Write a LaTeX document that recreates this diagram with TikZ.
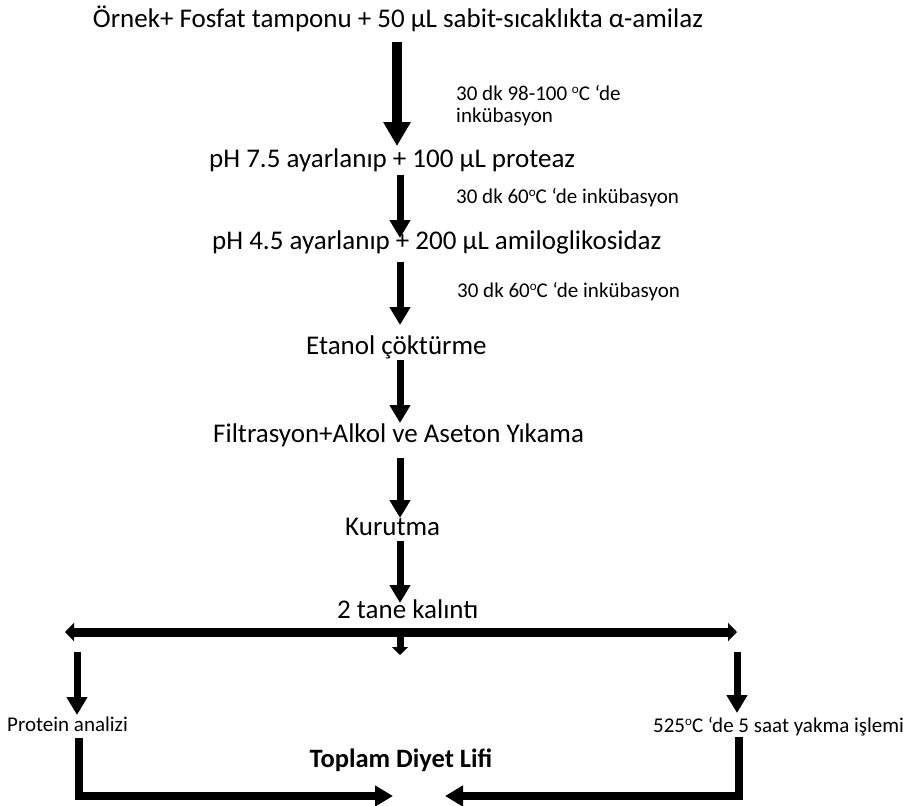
\documentclass[tikz,border=0pt]{standalone}
\usepackage{fontspec}
\setmainfont{Carlito}
\usetikzlibrary{arrows.meta}
\newcommand\degsup{\raisebox{0.32em}{\scalebox{0.62}{o}}}
\tikzset{
  bigtext/.style={font=\fontsize{27}{31}\selectfont, inner sep=0pt, anchor=base west},
  smalltext/.style={font=\fontsize{21}{25}\selectfont, inner sep=0pt, anchor=base west},
  flowarrow/.style={line width=7pt, -{Triangle[length=18pt,width=20pt]}},
  bigflowarrow/.style={line width=10pt, -{Triangle[length=24pt,width=26pt]}},
  splitarrow/.style={line width=9pt, {Triangle[length=9pt,width=18pt]}-{Triangle[length=9pt,width=18pt]}},
  stubarrow/.style={line width=7pt, -{Triangle[length=8pt,width=16pt]}},
  mergearrow/.style={line width=8pt, -{Triangle[length=18pt,width=20pt]}},
}
\begin{document}
\begin{tikzpicture}[x=1pt,y=-1pt]
\useasboundingbox (0,0) rectangle (903,806);
% texts
\node[bigtext, anchor=base] (t0) at (398,27) {Örnek+ Fosfat tamponu + 50 µL sabit-sıcaklıkta α-amilaz};
\node[smalltext] (s1a) at (456,100) {30 dk 98-100 \degsup C ‘de};
\node[smalltext] (s1b) at (456,122) {inkübasyon};
\node[bigtext] (t1) at (209,167) {pH 7.5 ayarlanıp + 100 µL proteaz};
\node[smalltext] (s2) at (456,203) {30 dk 60\degsup C ‘de inkübasyon};
\node[bigtext] (t2) at (212,249) {pH 4.5 ayarlanıp + 200 µL amiloglikosidaz};
\node[smalltext] (s3) at (457,297) {30 dk 60\degsup C ‘de inkübasyon};
\node[bigtext] (t3) at (306,354) {Etanol çöktürme};
\node[bigtext] (t4) at (213,442) {Filtrasyon+Alkol ve Aseton Yıkama};
\node[bigtext] (t5) at (345,535) {Kurutma};
\node[bigtext] (t6) at (337,618) {2 tane kalıntı};
\node[smalltext] (pa) at (7,731) {Protein analizi};
\node[smalltext] (yk) at (653,732) {525\degsup C ‘de 5 saat yakma işlemi};
\node[font=\fontsize{26.5}{31}\selectfont\bfseries, inner sep=0pt, anchor=base] (tdl) at (401,767) {Toplam Diyet Lifi};
% connector end points
\coordinate (a1s) at (397,42);  \coordinate (a1e) at (397,146);
\coordinate (a2s) at (400,175); \coordinate (a2e) at (400,238);
\coordinate (a3s) at (400,262); \coordinate (a3e) at (400,325);
\coordinate (a4s) at (400,360); \coordinate (a4e) at (400,423);
\coordinate (a5s) at (400,458); \coordinate (a5e) at (400,518);
\coordinate (a6s) at (400,541); \coordinate (a6e) at (400,603);
\coordinate (hl) at (65,632);   \coordinate (hr) at (737,632);
\coordinate (ms) at (400,637);  \coordinate (me) at (400,655);
\coordinate (ls) at (77,652);   \coordinate (le) at (77,715);
\coordinate (rs) at (737,652);  \coordinate (re) at (737,713);
\coordinate (bls) at (79,738);  \coordinate (ble) at (393,796);
\coordinate (brs) at (739,737); \coordinate (bre) at (445,796);
% connectors
\draw[bigflowarrow] (a1s) -- (a1e);
\draw[flowarrow] (a2s) -- (a2e);
\draw[flowarrow] (a3s) -- (a3e);
\draw[flowarrow] (a4s) -- (a4e);
\draw[flowarrow] (a5s) -- (a5e);
\draw[flowarrow] (a6s) -- (a6e);
\draw[splitarrow] (hl) -- (hr);
\draw[stubarrow] (ms) -- (me);
\draw[flowarrow] (ls) -- (le);
\draw[flowarrow] (rs) -- (re);
\draw[mergearrow] (bls) |- (ble);
\draw[mergearrow] (brs) |- (bre);
\end{tikzpicture}
\end{document}
